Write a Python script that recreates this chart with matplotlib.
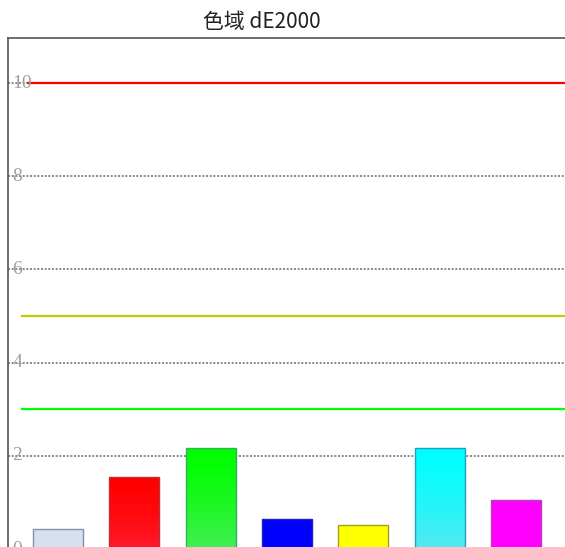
import matplotlib
matplotlib.use("Agg")
import matplotlib.pyplot as plt
import numpy as np
from matplotlib.colors import to_rgb

title = "色域 dE2000"
categories = ["White", "Red", "Green", "Blue", "Yellow", "Cyan", "Magenta"]
values = [0.43, 1.55, 2.17, 0.64, 0.52, 2.17, 1.05]
top_colors = ["#d8e0ee", "#ff0000", "#00ff00", "#0000ff", "#ffff00", "#00ffff", "#ff00ff"]
bottom_colors = ["#d8e0ee", "#ff1a2a", "#44ee55", "#0000ff", "#ffff00", "#55e8f0", "#ff00ff"]
edge_colors = ["#7f93b0", "#c0303a", "#30b060", "#2020c0", "#a0a020", "#20a0c0", "#b040c0"]
ref_lines = [10, 5, 3]
ref_colors = ["#ff0000", "#c8c800", "#00ff00"]
ref_starts = [0.26, 0.18, 0.18]
yticks = [0, 2, 4, 6, 8, 10]

W, H = 565, 547
fig = plt.figure(figsize=(W / 100, H / 100), dpi=100)
ylo, yhi = 0, 10.96
ppu = 46.6
y0_px = 549
top_px = y0_px - yhi * ppu
left_px, right_px = 8, 566
ax = fig.add_axes([left_px / W, (H - y0_px) / H, (right_px - left_px) / W, (y0_px - top_px) / H])
ax.set_ylim(ylo, yhi)
ax.set_xlim(-0.655, len(categories) - 1 + 0.655)

for s in ["left", "top", "right", "bottom"]:
    ax.spines[s].set_color("#555555")
    ax.spines[s].set_linewidth(1.2)
ax.set_xticks([])
ax.set_yticks([])

for t in yticks:
    ax.axhline(t, color="#777777", linestyle=(0, (1.2, 1.0)), linewidth=1.2, zorder=1)
    ax.text(0.008, t, str(t), transform=ax.get_yaxis_transform(), ha="left", va="center",
            fontsize=14, color="#a0a0a0", family="Liberation Serif", zorder=3)

for v, c, st in zip(ref_lines, ref_colors, ref_starts):
    ax.plot([-0.655 + st, len(categories) - 1 + 0.655], [v, v], color=c, linewidth=1.6, zorder=2)

width = 0.655
bars = ax.bar(range(len(categories)), values, width=width, color="none", zorder=4)
for b, tc, bc, ec in zip(bars, top_colors, bottom_colors, edge_colors):
    x0, y0 = b.get_x(), b.get_y()
    w, h = b.get_width(), b.get_height()
    t = np.linspace(0, 1, 64)[:, None]
    c1, c2 = np.array(to_rgb(tc)), np.array(to_rgb(bc))
    f = t ** 1.5
    img = (c1[None, :] * (1 - f) + c2[None, :] * f)[:, None, :]
    im = ax.imshow(img, extent=[x0, x0 + w, y0, y0 + h], origin="upper", aspect="auto", zorder=4)
    rect = plt.Rectangle((x0, y0), w, h, facecolor="none", edgecolor=ec, linewidth=1.0, zorder=5)
    ax.add_patch(rect)
    im.set_clip_path(rect)

ax.set_ylim(ylo, yhi)
ax.set_xlim(-0.655, len(categories) - 1 + 0.655)

fig.text(262 / W, 1 - 22 / H, title, ha="center", va="center", fontsize=15,
         family=["Noto Sans CJK SC", "DejaVu Sans"], color="#222222")

fig.savefig("out.png", dpi=100)
